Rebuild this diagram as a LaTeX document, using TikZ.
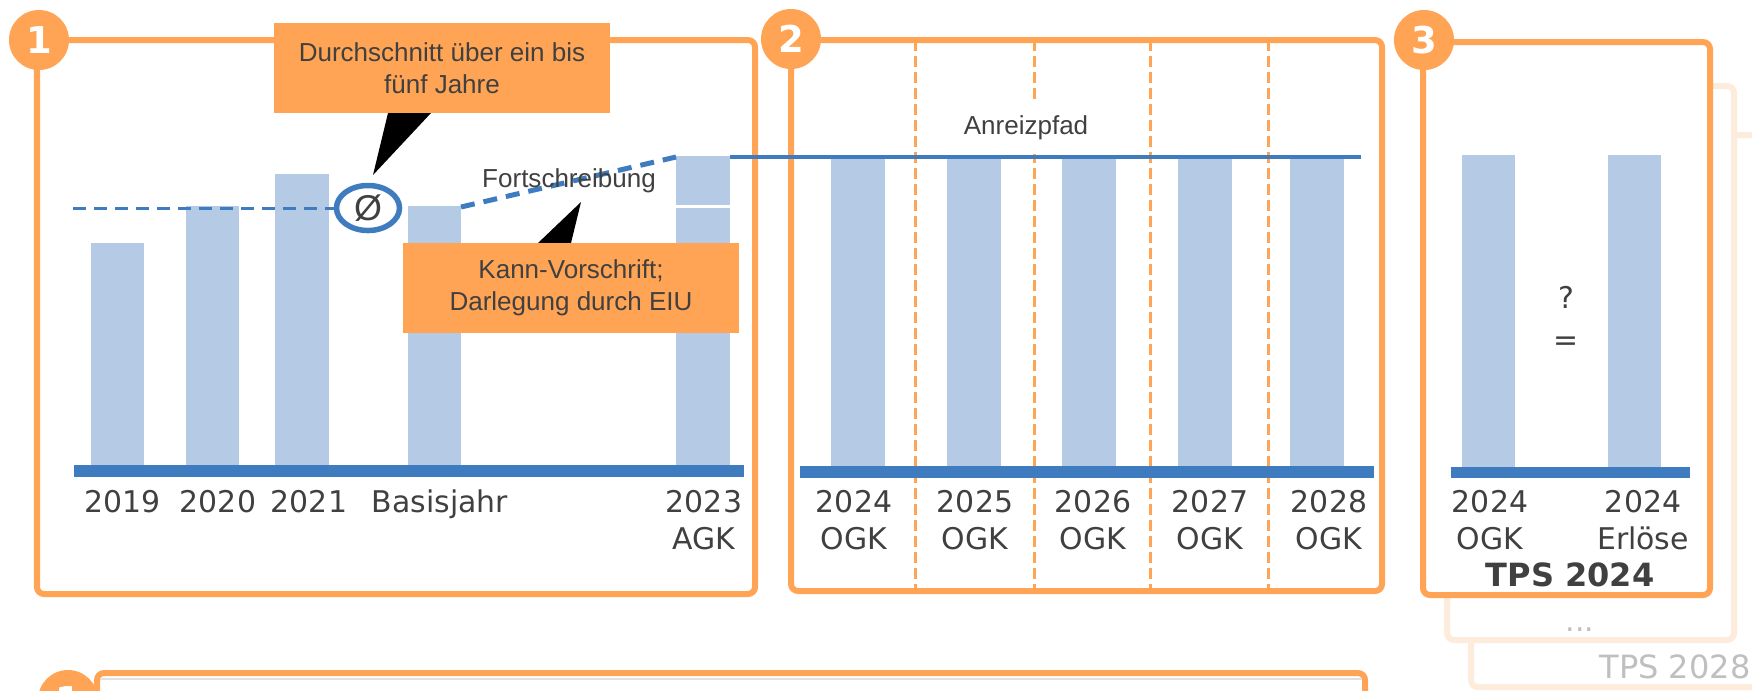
\documentclass[tikz,border=0pt]{standalone}
\usepackage{fontspec}
\setmainfont{Liberation Sans}
\newfontfamily\axisfont{DejaVu Sans}
\usetikzlibrary{shapes.geometric}
\definecolor{orng}{HTML}{FFA455}
\definecolor{pale}{HTML}{FDEBDB}
\definecolor{colblue}{HTML}{B4CAE5}
\definecolor{axblue}{HTML}{3F7CBF}
\definecolor{txt}{HTML}{404040}
\definecolor{faint}{HTML}{BFBFBF}
\begin{document}
\begin{tikzpicture}[x=0.01cm, y=-0.01cm,
    panel/.style={draw=orng, line width=0.6mm, rounded corners=2pt},
    ghost/.style={draw=pale, line width=0.6mm, rounded corners=2pt, fill=white},
    num/.style={circle, fill=orng, minimum size=6mm, inner sep=0pt, text=white, font=\axisfont\bfseries\fontsize{10.5}{10.5}\selectfont},
    calloutbox/.style={fill=orng, text=txt, align=center, inner sep=0pt, minimum width=33.6mm, minimum height=9mm, font=\fontsize{7.4}{9.1}\selectfont},
    note/.style={text=txt, inner sep=0pt, font=\fontsize{7.4}{9.1}\selectfont},
    lbl/.style={text=txt, align=center, inner sep=0pt, font=\axisfont\fontsize{8.5}{10.5}\selectfont},
    colbar/.style={fill=colblue},
    axisbar/.style={fill=axblue},
    yearsep/.style={draw=orng, line width=0.3mm, dash pattern=on 1.1mm off 0.5mm}]
	\useasboundingbox (0,0) rectangle (1752,690);
	\clip (0,0) rectangle (1752,690);
	% later tariff periods, stacked behind panel 3
	\draw[ghost] (1471,135) rectangle (1800,687);
	\draw[ghost] (1447,86) rectangle (1734,640);
	\node[lbl, text=faint] (dots) at (1580,630) {...};
	\node[lbl, text=faint, font=\axisfont\fontsize{9.1}{9.1}\selectfont] (tps28) at (1675,667) {TPS 2028};
	% panels
	\draw[panel] (37,40) rectangle (755,594);
	\draw[panel] (791,40) rectangle (1382,591);
	\draw[panel, fill=white] (1423,42) rectangle (1710,595);
	\draw[panel] (97,673) rectangle (1365,760);
	\draw[black!12, line width=0.2mm] (100,679) -- (1362,679);
	\node[num] (n1) at (39,40) {1};
	\node[num] (n2) at (791,39) {2};
	\node[num] (n3) at (1424,40) {3};
	\node[num] (n4) at (68,700) {1};
	% panel 1
	\fill[colbar] (91,243) rectangle (144,465);
	\fill[colbar] (186,206) rectangle (239,465);
	\fill[colbar] (275,174) rectangle (329,465);
	\fill[colbar] (408,206) rectangle (461,465);
	\fill[colbar] (676,156) rectangle (730,205);
	\fill[colbar] (676,208) rectangle (730,465);
	\fill[axisbar] (74,465) rectangle (744,477);
	\node[ellipse, draw=axblue, fill=white, line width=0.55mm, minimum width=6.3mm, minimum height=4.5mm, inner sep=0pt, text=txt, font=\fontsize{10.2}{10.2}\selectfont] (avg) at (368,208) {Ø};
	\draw[axblue, line width=0.3mm, dash pattern=on 1.3mm off 0.8mm] (73,208) -- (avg.west);
	\coordinate (basetop) at (461,207);
	\coordinate (agktop) at (676,157);
	\coordinate (agkright) at (730,157);
	\coordinate (pathend) at (1361,157);
	\draw[axblue, line width=0.5mm, dash pattern=on 1.4mm off 0.9mm] (basetop) -- (agktop);
	\node[note] (fort) at (569,181) {Fortschreibung};
	\coordinate (tip1) at (373,175);
	\coordinate (tip2) at (581,202);
	\fill (388,113) -- (tip1) -- (431,113) -- cycle;
	\fill (538,243) -- (tip2) -- (571,243) -- cycle;
	\node[calloutbox] (cavg) at (442,68) {Durchschnitt über ein bis\\fünf Jahre};
	\node[calloutbox] (ckann) at (571,288) {Kann-Vorschrift;\\Darlegung durch EIU};
	\node[lbl, anchor=base] (y19) at (123,512) {2019};
	\node[lbl, anchor=base] (y20) at (218,512) {2020};
	\node[lbl, anchor=base] (y21) at (309,512) {2021};
	\node[lbl, anchor=base] (basis) at (440,512) {Basisjahr};
	\node[lbl, anchor=north] (y23) at (704,490) {2023\\AGK};
	% panel 2
	\foreach \x in {915,1034,1150,1268}
		\draw[yearsep] (\x,40) -- (\x,591);
	\node[note, fill=white, minimum height=5.2mm, inner xsep=1mm] (pfad) at (1026,128) {Anreizpfad};
	\foreach \x in {831,947,1062,1178,1290}
		\fill[colbar] (\x,158) rectangle ++(54,308);
	\fill[axisbar] (800,466) rectangle (1374,478);
	\draw[axblue, line width=0.4mm] (agkright) -- (pathend);
	\node[lbl, anchor=north] (y24) at (854,490) {2024\\OGK};
	\node[lbl, anchor=north] (y25) at (975,490) {2025\\OGK};
	\node[lbl, anchor=north] (y26) at (1093,490) {2026\\OGK};
	\node[lbl, anchor=north] (y27) at (1210,490) {2027\\OGK};
	\node[lbl, anchor=north] (y28) at (1329,490) {2028\\OGK};
	% panel 3
	\fill[colbar] (1462,155) rectangle (1515,467);
	\fill[colbar] (1608,155) rectangle (1661,467);
	\fill[axisbar] (1451,467) rectangle (1690,478);
	\node[lbl, anchor=north, font=\axisfont\fontsize{8.5}{11.7}\selectfont] (eq) at (1566,286) {?\\=};
	\node[lbl, anchor=north] (ogk) at (1490,490) {2024\\OGK};
	\node[lbl, anchor=north] (erl) at (1643,490) {2024\\Erlöse};
	\node[lbl, font=\axisfont\bfseries\fontsize{9.1}{9.1}\selectfont] (tps24) at (1570,575) {TPS 2024};
\end{tikzpicture}
\end{document}
